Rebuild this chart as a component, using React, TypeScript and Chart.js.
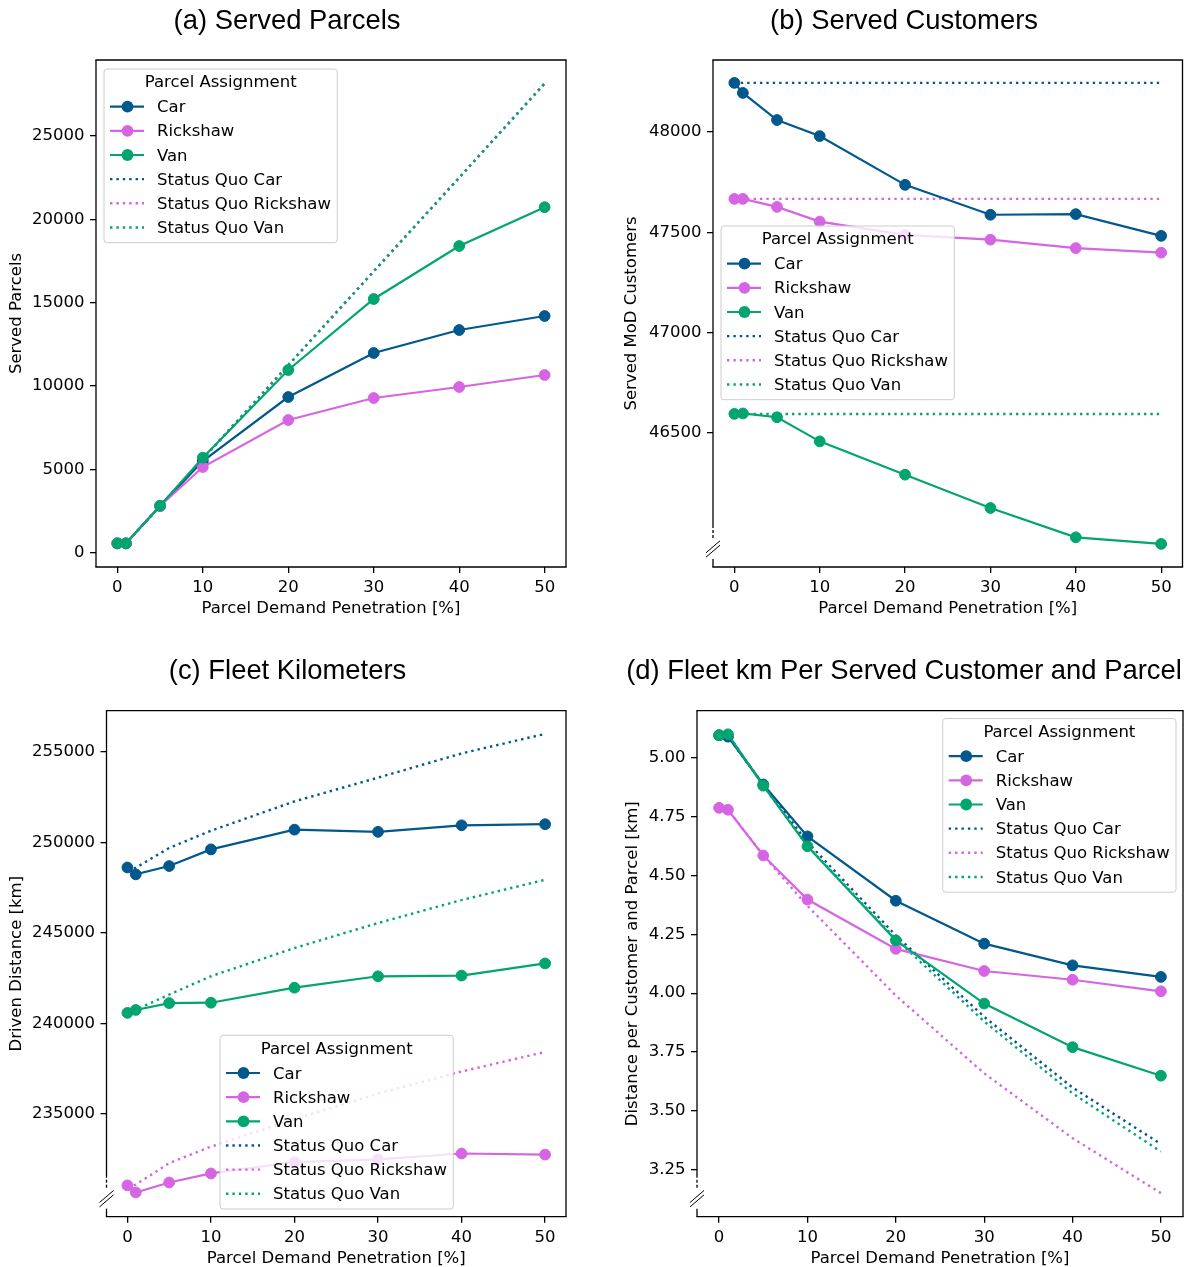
import React, { useEffect, useRef } from 'react';
import { Chart, registerables } from 'chart.js';

Chart.register(...registerables);

// ---------- shared data ----------
const PENETRATION = [0, 1, 5, 10, 20, 30, 40, 50];
const X_TICKS = [0, 10, 20, 30, 40, 50];
const SERIES_NAMES = ['Car', 'Rickshaw', 'Van'];
const SQ_NAMES = ['Status Quo Car', 'Status Quo Rickshaw', 'Status Quo Van'];
const COLORS = ['#00588C', '#D565E3', '#02A46F'];
const LEGEND_TITLE = 'Parcel Assignment';
const X_LABEL = 'Parcel Demand Penetration [%]';

// ---------- (a) Served Parcels ----------
const PARCELS_CAR = [560, 560, 2800, 5500, 9340, 11980, 13360, 14200];
const PARCELS_RICKSHAW = [560, 560, 2800, 5140, 7960, 9280, 9940, 10660];
const PARCELS_VAN = [560, 560, 2820, 5700, 10960, 15220, 18400, 20730];
const PARCELS_SQ_CAR = [560, 560, 2800, 5630, 11250, 16880, 22500, 28150];
const PARCELS_SQ_RICKSHAW = [560, 560, 2800, 5630, 11250, 16880, 22500, 28150];
const PARCELS_SQ_VAN = [560, 560, 2800, 5630, 11250, 16880, 22500, 28150];
const PARCELS_TICKS = [0, 5000, 10000, 15000, 20000, 25000];

// ---------- (b) Served Customers ----------
const CUST_CAR = [48245, 48195, 48060, 47980, 47737, 47588, 47591, 47483];
const CUST_RICKSHAW = [47667, 47667, 47627, 47554, 47488, 47464, 47422, 47399];
const CUST_VAN = [46596, 46598, 46579, 46459, 46293, 46127, 45981, 45948];
const CUST_SQ_CAR = [48245, 48245, 48245, 48245, 48245, 48245, 48245, 48245];
const CUST_SQ_RICKSHAW = [47667, 47667, 47667, 47667, 47667, 47667, 47667, 47667];
const CUST_SQ_VAN = [46595, 46595, 46595, 46595, 46595, 46595, 46595, 46595];
const CUST_TICKS = [46500, 47000, 47500, 48000];

// ---------- (c) Fleet Kilometers ----------
const KM_CAR = [248620, 248240, 248700, 249620, 250710, 250590, 250950, 251010];
const KM_RICKSHAW = [231060, 230670, 231220, 231720, 232350, 232500, 232820, 232760];
const KM_VAN = [240590, 240750, 241130, 241150, 241980, 242610, 242650, 243320];
const KM_SQ_CAR = [248550, 248600, 249700, 250650, 252270, 253580, 254920, 256000];
const KM_SQ_RICKSHAW = [231000, 231100, 232290, 233200, 234720, 236130, 237350, 238430];
const KM_SQ_VAN = [240590, 240750, 241600, 242610, 244170, 245550, 246820, 247940];
const KM_TICKS = [235000, 240000, 245000, 250000, 255000];

// ---------- (d) Fleet km per served customer and parcel ----------
const PER_CAR = [5.094, 5.088, 4.885, 4.665, 4.392, 4.21, 4.118, 4.069];
const PER_RICKSHAW = [4.786, 4.778, 4.584, 4.397, 4.188, 4.094, 4.057, 4.008];
const PER_VAN = [5.094, 5.098, 4.88, 4.623, 4.224, 3.956, 3.771, 3.65];
const PER_SQ_CAR = [5.094, 5.088, 4.885, 4.64, 4.245, 3.9, 3.6, 3.36];
const PER_SQ_RICKSHAW = [4.786, 4.778, 4.584, 4.37, 3.99, 3.66, 3.385, 3.152];
const PER_SQ_VAN = [5.094, 5.098, 4.88, 4.625, 4.23, 3.88, 3.575, 3.328];
const PER_TICKS = [3.25, 3.5, 3.75, 4.0, 4.25, 4.5, 4.75, 5.0];

// ---------- panel layout ----------
type Panel = {
  title: string;
  ylabel: string;
  left: number; top: number; width: number; height: number;
  L: number; R: number; T: number; B: number;
  titleX: number; titleY: number;
  yMin: number; yMax: number;
  yTicks: number[];
  fmt: (v: number) => string;
  solid: number[][];
  sq: number[][];
  legendX: number; legendY: number;
  brk: boolean;
  xTitleY: number;
  yTitleX: number;
};

const PANELS: Panel[] = [
  {
    title: '(a) Served Parcels', ylabel: 'Served Parcels',
    left: 0, top: 0, width: 590, height: 640,
    L: 96, R: 566, T: 60, B: 567,
    titleX: 287, titleY: 21.3,
    yMin: -858, yMax: 29560, yTicks: PARCELS_TICKS, fmt: (v) => String(Math.round(v)),
    solid: [PARCELS_CAR, PARCELS_RICKSHAW, PARCELS_VAN],
    sq: [PARCELS_SQ_CAR, PARCELS_SQ_RICKSHAW, PARCELS_SQ_VAN],
    legendX: 104, legendY: 69, brk: false, xTitleY: 609, yTitleX: 16.6,
  },
  {
    title: '(b) Served Customers', ylabel: 'Served MoD Customers',
    left: 600, top: 0, width: 590, height: 640,
    L: 713, R: 1182.5, T: 60, B: 567,
    titleX: 904, titleY: 21.3,
    yMin: 45833, yMax: 48359, yTicks: CUST_TICKS, fmt: (v) => String(Math.round(v)),
    solid: [CUST_CAR, CUST_RICKSHAW, CUST_VAN],
    sq: [CUST_SQ_CAR, CUST_SQ_RICKSHAW, CUST_SQ_VAN],
    legendX: 721, legendY: 226, brk: true, xTitleY: 609, yTitleX: 632,
  },
  {
    title: '(c) Fleet Kilometers', ylabel: 'Driven Distance [km]',
    left: 0, top: 640, width: 590, height: 627,
    L: 106.5, R: 566, T: 710.7, B: 1216.7,
    titleX: 287.5, titleY: 671,
    yMin: 229330, yMax: 257280, yTicks: KM_TICKS, fmt: (v) => String(Math.round(v)),
    solid: [KM_CAR, KM_RICKSHAW, KM_VAN],
    sq: [KM_SQ_CAR, KM_SQ_RICKSHAW, KM_SQ_VAN],
    legendX: 220, legendY: 1035.3, brk: true, xTitleY: 1258.5, yTitleX: 16.6,
  },
  {
    title: '(d) Fleet km Per Served Customer and Parcel', ylabel: 'Distance per Customer and Parcel [km]',
    left: 600, top: 640, width: 590, height: 627,
    L: 697, R: 1183, T: 710.7, B: 1216.7,
    titleX: 904, titleY: 671,
    yMin: 3.052, yMax: 5.198, yTicks: PER_TICKS, fmt: (v) => v.toFixed(2),
    solid: [PER_CAR, PER_RICKSHAW, PER_VAN],
    sq: [PER_SQ_CAR, PER_SQ_RICKSHAW, PER_SQ_VAN],
    legendX: 942.7, legendY: 718.5, brk: true, xTitleY: 1258.5, yTitleX: 633,
  },
];

const FONT = 'DejaVu Sans';
const FS = 16.5;
const TITLE_FONT = 'Liberation Sans';
const LW = 2.2;
const DOT = [2.4, 4.0];
const PT_R = 5.4;

function toPoints(ys: number[]) {
  return PENETRATION.map((x, i) => ({ x, y: ys[i] }));
}

function drawLegend(ctx: CanvasRenderingContext2D, x0: number, y0: number) {
  ctx.save();
  ctx.font = `${FS}px "${FONT}"`;
  let maxW = 0;
  [...SERIES_NAMES, ...SQ_NAMES].forEach((n) => { maxW = Math.max(maxW, ctx.measureText(n).width); });
  const w = Math.max(233.3, 53 + maxW + 6);
  const h = 173.7;
  const r = 3;
  ctx.beginPath();
  ctx.moveTo(x0 + r, y0);
  ctx.lineTo(x0 + w - r, y0);
  ctx.arcTo(x0 + w, y0, x0 + w, y0 + r, r);
  ctx.lineTo(x0 + w, y0 + h - r);
  ctx.arcTo(x0 + w, y0 + h, x0 + w - r, y0 + h, r);
  ctx.lineTo(x0 + r, y0 + h);
  ctx.arcTo(x0, y0 + h, x0, y0 + h - r, r);
  ctx.lineTo(x0, y0 + r);
  ctx.arcTo(x0, y0, x0 + r, y0, r);
  ctx.closePath();
  ctx.fillStyle = 'rgba(255,255,255,0.8)';
  ctx.fill();
  ctx.strokeStyle = '#cccccc';
  ctx.lineWidth = 1;
  ctx.stroke();

  ctx.fillStyle = '#000';
  ctx.textBaseline = 'middle';
  ctx.textAlign = 'center';
  ctx.fillText(LEGEND_TITLE, x0 + w / 2, y0 + 14.2);
  ctx.textAlign = 'left';
  const entries = [
    ...SERIES_NAMES.map((n, i) => ({ n, c: COLORS[i], dotted: false })),
    ...SQ_NAMES.map((n, i) => ({ n, c: COLORS[i], dotted: true })),
  ];
  entries.forEach((e, i) => {
    const y = y0 + 37.7 + i * 24.15;
    ctx.strokeStyle = e.c;
    ctx.lineWidth = e.dotted ? 2.4 : LW;
    ctx.lineCap = 'butt';
    ctx.setLineDash(e.dotted ? DOT : []);
    ctx.beginPath();
    ctx.moveTo(x0 + 6, y);
    ctx.lineTo(x0 + 40, y);
    ctx.stroke();
    ctx.setLineDash([]);
    if (!e.dotted) {
      ctx.fillStyle = e.c;
      ctx.beginPath();
      ctx.arc(x0 + 23.5, y, PT_R + 0.5, 0, Math.PI * 2);
      ctx.fill();
    }
    ctx.fillStyle = '#000';
    ctx.fillText(e.n, x0 + 53, y + 1.3);
  });
  ctx.restore();
}

function decorPlugin(p: Panel) {
  return {
    id: 'decor',
    afterDraw(chart: any) {
      const ctx: CanvasRenderingContext2D = chart.ctx;
      const a = chart.chartArea;
      ctx.save();
      ctx.strokeStyle = '#000';
      ctx.lineWidth = 1.3;
      ctx.lineCap = 'butt';
      const seg = (x1: number, y1: number, x2: number, y2: number) => {
        ctx.beginPath();
        ctx.moveTo(x1, y1);
        ctx.lineTo(x2, y2);
        ctx.stroke();
      };
      seg(a.left - 0.65, a.top, a.right + 0.65, a.top);
      seg(a.right, a.top, a.right, a.bottom);
      seg(a.left - 0.65, a.bottom, a.right + 0.65, a.bottom);
      if (p.brk) {
        const B = a.bottom;
        seg(a.left, a.top, a.left, B - 39);
        seg(a.left, B - 37, a.left, B - 34);
        seg(a.left, B - 32, a.left, B - 29);
        seg(a.left, B - 8, a.left, B);
        ctx.lineWidth = 1;
        for (const off of [-2.2, 2.2]) seg(a.left - 7, B - 18 + 6 + off, a.left + 7, B - 18 - 6 + off);
      } else {
        seg(a.left, a.top, a.left, a.bottom);
      }
      ctx.restore();

      drawLegend(ctx, p.legendX - p.left, p.legendY - p.top);

      ctx.save();
      ctx.font = `27.4px "${TITLE_FONT}"`;
      ctx.fillStyle = '#000';
      ctx.textAlign = 'center';
      ctx.textBaseline = 'middle';
      ctx.fillText(p.title, p.titleX - p.left, p.titleY - p.top);
      ctx.restore();
    },
  };
}

function buildConfig(p: Panel): any {
  const solidOrder = [2, 1, 0];
  const sqOrder = [5, 4, 3];
  const datasets: any[] = [];
  p.solid.forEach((ys, i) => {
    datasets.push({
      label: SERIES_NAMES[i],
      data: toPoints(ys),
      borderColor: COLORS[i],
      backgroundColor: COLORS[i],
      borderWidth: LW,
      pointRadius: PT_R,
      pointBorderWidth: 1,
      pointBorderColor: COLORS[i],
      pointBackgroundColor: COLORS[i],
      pointHoverRadius: PT_R,
      tension: 0,
      order: solidOrder[i],
    });
  });
  p.sq.forEach((ys, i) => {
    datasets.push({
      label: SQ_NAMES[i],
      data: toPoints(ys),
      borderColor: COLORS[i],
      backgroundColor: COLORS[i],
      borderWidth: 2.4,
      borderDash: DOT,
      borderCapStyle: 'butt',
      pointRadius: 0,
      pointHoverRadius: 0,
      tension: 0,
      order: sqOrder[i],
    });
  });

  const yw = p.L - p.left;
  const xh = p.top + p.height - p.B;
  const lh = FS * 1.2;
  const tickFont = { family: FONT, size: FS };

  return {
    type: 'line',
    data: { datasets },
    options: {
      responsive: false,
      maintainAspectRatio: false,
      animation: false,
      events: [],
      layout: {
        padding: { top: p.T - p.top, right: p.left + p.width - p.R, bottom: 0, left: 0 },
      },
      plugins: {
        legend: { display: false },
        tooltip: { enabled: false },
        title: { display: false },
      },
      scales: {
        x: {
          type: 'linear',
          min: -2.5,
          max: 52.5,
          bounds: 'data',
          afterBuildTicks: (s: any) => { s.ticks = X_TICKS.map((v) => ({ value: v })); },
          afterFit: (s: any) => { s.height = xh; },
          grid: { drawOnChartArea: false, drawTicks: true, tickLength: 6, color: '#000', lineWidth: 1.3 },
          border: { display: false },
          ticks: {
            font: tickFont, color: '#000', padding: 5, maxRotation: 0, autoSkip: false,
            callback: (v: number) => String(v),
          },
          title: {
            display: true, text: X_LABEL, color: '#000',
            font: { family: FONT, size: FS },
            padding: { top: 0, bottom: p.top + p.height - lh / 2 - p.xTitleY },
          },
        },
        y: {
          type: 'linear',
          min: p.yMin,
          max: p.yMax,
          bounds: 'data',
          afterBuildTicks: (s: any) => { s.ticks = p.yTicks.map((v) => ({ value: v })); },
          afterFit: (s: any) => { s.width = yw; },
          grid: { drawOnChartArea: false, drawTicks: true, tickLength: 6, color: '#000', lineWidth: 1.3 },
          border: { display: false },
          ticks: {
            font: tickFont, color: '#000', padding: 5.5, autoSkip: false,
            callback: (v: number) => p.fmt(v),
          },
          title: {
            display: true, text: p.ylabel, color: '#000',
            font: { family: FONT, size: FS },
            padding: { top: p.yTitleX - p.left - lh / 2, bottom: 0 },
          },
        },
      },
    },
    plugins: [decorPlugin(p)],
  };
}

function PanelChart({ p }: { p: Panel }) {
  const ref = useRef<HTMLCanvasElement>(null);
  useEffect(() => {
    if (!ref.current) return;
    const chart = new Chart(ref.current, buildConfig(p));
    return () => chart.destroy();
  }, [p]);
  return (
    <canvas
      ref={ref}
      width={p.width}
      height={p.height}
      style={{ position: 'absolute', left: p.left, top: p.top, width: p.width, height: p.height }}
    />
  );
}

export default function App() {
  return (
    <div
      style={{
        position: 'absolute', left: 0, top: 0, width: 1190, height: 1267,
        overflow: 'hidden', background: '#fff',
      }}
    >
      {PANELS.map((p) => (
        <PanelChart key={p.title} p={p} />
      ))}
    </div>
  );
}
